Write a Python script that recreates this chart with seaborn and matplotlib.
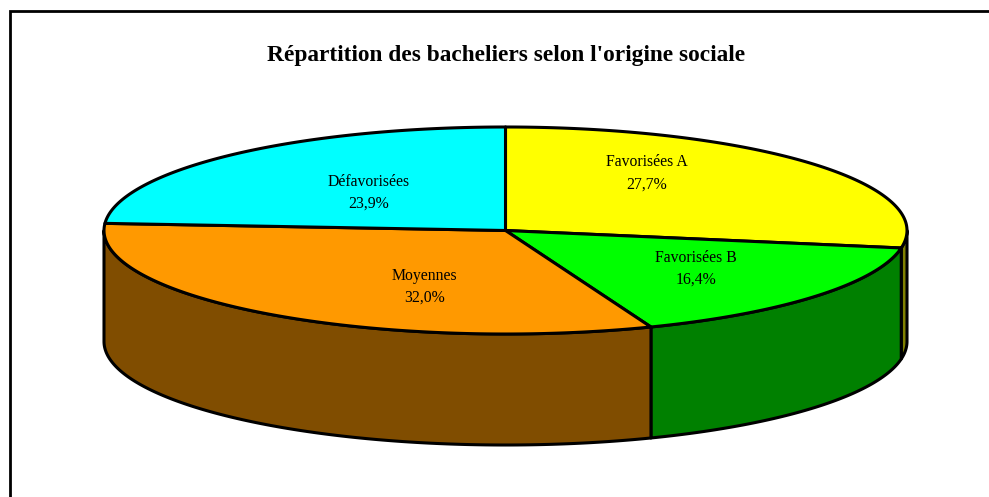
import numpy as np
import matplotlib
matplotlib.use("Agg")
import matplotlib.pyplot as plt
import seaborn as sns

title = "Répartition des bacheliers selon l'origine sociale"
categories = ["Favorisées A", "Favorisées B", "Moyennes", "Défavorisées"]
shares = [27.7, 16.4, 32.0, 23.9]
value_labels = ["27,7%", "16,4%", "32,0%", "23,9%"]
top_colors = ["#FFFF00", "#00FF00", "#FF9900", "#00FFFF"]
side_colors = ["#808000", "#008000", "#804D00", "#008080"]

sns.set_theme(style="white")
plt.rcParams["font.family"] = ["Liberation Serif", "DejaVu Serif"]

fig = plt.figure(figsize=(9.89, 4.97), dpi=100)
ax = fig.add_axes([0, 0, 1, 1])
ax.set_xlim(0, 989)
ax.set_ylim(497, 0)
ax.axis("off")

CX, CY, RX, RY, DEPTH = 505.5, 230.5, 401.5, 103.5, 111
LW = 2.2
label_offsets = [(141.5, -57), (190, 38), (-81, 56), (-137, -38)]

def pt(t):
    return CX + RX * np.sin(t), CY - RY * np.cos(t)

# frame: left and top edges only, running off the picture
ax.plot([9.5, 9.5, 989], [497, 10.5, 10.5], color="black", lw=2, solid_joinstyle="miter")

edges = np.cumsum([0] + shares) / 100 * 2 * np.pi

# side walls: visible half of the cylinder only
for i in range(len(shares)):
    a, b = max(edges[i], np.pi / 2), min(edges[i + 1], 3 * np.pi / 2)
    if b <= a:
        continue
    t = np.linspace(a, b, 200)
    x, y = pt(t)
    xs = np.r_[x, x[::-1]]
    ys = np.r_[y, y[::-1] + DEPTH]
    ax.fill(xs, ys, facecolor=side_colors[i], edgecolor="black", lw=LW, joinstyle="round", zorder=2)

# top faces
for i in range(len(shares)):
    t = np.linspace(edges[i], edges[i + 1], 300)
    x, y = pt(t)
    ax.fill(np.r_[CX, x], np.r_[CY, y], facecolor=top_colors[i], edgecolor="black", lw=LW,
            joinstyle="round", zorder=3)

for i, (c, v) in enumerate(zip(categories, value_labels)):
    dx, dy = label_offsets[i]
    ax.text(CX + dx, CY + dy, f"{c}\n{v}", ha="center", va="center", fontsize=11.3, color="black",
            linespacing=1.5, zorder=4)

ax.text(506, 55.5, title, ha="center", va="center", fontsize=16.8, fontweight="bold", color="black")

fig.savefig("out.png", dpi=100, facecolor="white")
